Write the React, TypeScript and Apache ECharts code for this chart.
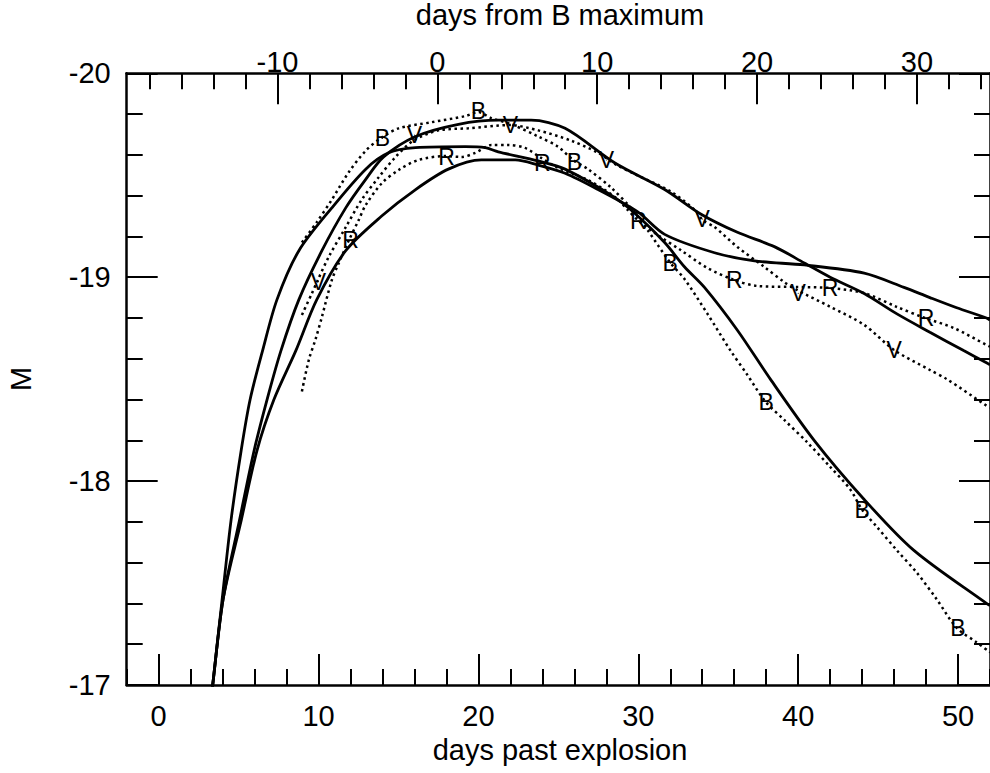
import React, { useEffect, useRef } from 'react';
import * as echarts from 'echarts';

const FONT = '"Liberation Sans", Arial, Helvetica, sans-serif';

// offset (days) between explosion and B maximum
const B_OFFSET = 17.43;

// tick values
const bottomMajorTicks = [0, 10, 20, 30, 40, 50];
const topMajorTicks = [-10, 0, 10, 20, 30];
const topMinorTicks = [-18, -16, -14, -12, -10, -8, -6, -4, -2, 0, 2, 4, 6, 8, 10, 12, 14, 16, 18, 20, 22, 24, 26, 28, 30, 32, 34];

// model light curves (solid): [days past explosion, M]
const modelB: [number, number][] = [
  [3.24, -16.9], [3.38, -17.0], [3.97, -17.42], [4.53, -17.81], [5.16, -18.15], [5.72, -18.4], [6.5, -18.64],
  [7.4, -18.89], [8.77, -19.13], [10.83, -19.34], [12.95, -19.53], [14.38, -19.61], [16.07, -19.635],
  [19.18, -19.64], [20.43, -19.635], [21.24, -19.615], [23.74, -19.57], [25.42, -19.53], [28.54, -19.39],
  [29.97, -19.3], [31.65, -19.17], [32.9, -19.05], [34.14, -18.95], [36.2, -18.74], [38.26, -18.5],
  [41.0, -18.2], [44.13, -17.91], [47.24, -17.66], [51.78, -17.4], [52.0, -17.39],
];
const modelV: [number, number][] = [
  [3.24, -16.9], [3.38, -17.0], [4.03, -17.42], [5.06, -17.81], [5.97, -18.15], [6.78, -18.4], [7.65, -18.64],
  [8.77, -18.89], [10.21, -19.13], [11.7, -19.34], [12.95, -19.48], [14.07, -19.59], [16.07, -19.69],
  [18.75, -19.75], [21.24, -19.77], [23.3, -19.77], [25.42, -19.73], [28.54, -19.56], [31.65, -19.43],
  [33.9, -19.31], [36.2, -19.22], [38.51, -19.15], [40.38, -19.07], [42.0, -19.0], [44.13, -18.92],
  [46.18, -18.82], [48.24, -18.73], [50.35, -18.64], [51.78, -18.58], [52.0, -18.57],
];
const modelR: [number, number][] = [
  [3.24, -16.9], [3.38, -17.0], [4.03, -17.42], [5.17, -17.81], [6.15, -18.15], [7.21, -18.4], [8.58, -18.64],
  [9.89, -18.89], [11.7, -19.13], [13.95, -19.3], [16.07, -19.43], [18.12, -19.53], [20.18, -19.575],
  [22.3, -19.575], [23.74, -19.55], [25.42, -19.51], [27.48, -19.43], [29.97, -19.32], [31.65, -19.21],
  [34.77, -19.12], [37.27, -19.08], [40.38, -19.06], [44.13, -19.02], [46.62, -18.95], [48.24, -18.9],
  [49.92, -18.85], [51.78, -18.8], [52.0, -18.79],
];

// observed light curves (dotted)
const obsB: [number, number][] = [
  [8.96, -19.17], [9.89, -19.27], [10.83, -19.38], [11.89, -19.515], [12.95, -19.62], [13.95, -19.685],
  [15.01, -19.73], [17.06, -19.76], [19.18, -19.79], [19.99, -19.81], [20.81, -19.78], [22.05, -19.75],
  [23.74, -19.69], [24.98, -19.64], [25.92, -19.575], [26.85, -19.53], [28.29, -19.44], [29.53, -19.34],
  [30.59, -19.23], [31.96, -19.075], [32.9, -18.99], [34.33, -18.82], [35.77, -18.64], [36.83, -18.52],
  [37.95, -18.39], [39.13, -18.3], [40.57, -18.19], [42.0, -18.07], [43.25, -17.96], [44.0, -17.86],
  [44.93, -17.775], [46.18, -17.66], [47.43, -17.55], [48.67, -17.42], [49.92, -17.28], [51.15, -17.21],
  [52.0, -17.16],
];
const obsV: [number, number][] = [
  [8.96, -18.815], [9.58, -18.92], [9.89, -18.975], [10.64, -19.1], [11.7, -19.245], [12.7, -19.38],
  [13.76, -19.49], [14.82, -19.59], [15.94, -19.67], [17.5, -19.72], [19.37, -19.73], [21.99, -19.746],
  [23.74, -19.72], [25.79, -19.67], [27.48, -19.61], [28.54, -19.555], [29.53, -19.515], [32.03, -19.42],
  [33.53, -19.33], [34.03, -19.28], [34.77, -19.246], [36.2, -19.148], [37.89, -19.05], [39.13, -18.976],
  [39.94, -18.937], [42.0, -18.855], [44.13, -18.766], [46.0, -18.643], [48.24, -18.545], [49.3, -18.5],
  [51.78, -18.37], [52.0, -18.36],
];
const obsR: [number, number][] = [
  [8.96, -18.44], [9.39, -18.594], [9.83, -18.7], [10.21, -18.805], [10.83, -18.986], [11.27, -19.07],
  [11.89, -19.18], [12.51, -19.28], [12.95, -19.354], [13.95, -19.46], [15.01, -19.526], [16.25, -19.575],
  [17.94, -19.594], [18.94, -19.59], [19.81, -19.61], [20.81, -19.648], [21.86, -19.648], [22.92, -19.634],
  [23.92, -19.585], [24.98, -19.536], [26.85, -19.477], [28.54, -19.393], [29.34, -19.33], [29.97, -19.28],
  [31.22, -19.207], [32.65, -19.133], [34.33, -19.045], [36.02, -18.986], [37.45, -18.957], [39.94, -18.952],
  [42.0, -18.947], [44.13, -18.922], [46.18, -18.854], [47.93, -18.8], [49.73, -18.751], [51.78, -18.668],
  [52.0, -18.66],
];

// band letters placed on the observed curves
const markB: [number, number][] = [[14, -19.681], [20, -19.815], [26, -19.566], [32, -19.068], [38, -18.389], [44, -17.858], [50, -17.28]];
const markV: [number, number][] = [[10, -18.978], [16, -19.697], [22, -19.746], [28, -19.575], [34, -19.285], [40, -18.921], [46, -18.643]];
const markR: [number, number][] = [[12, -19.182], [18, -19.591], [24, -19.559], [30, -19.276], [36, -18.986], [42, -18.945], [48, -18.798]];

const BLACK = '#000';

function solid(name: string, data: [number, number][]) {
  return {
    name, type: 'line', data, xAxisIndex: 0, yAxisIndex: 0, showSymbol: false, symbol: 'none',
    smooth: 0.3, clip: true, silent: true,
    lineStyle: { color: BLACK, width: 2.8, type: 'solid' },
  };
}
function dotted(name: string, data: [number, number][]) {
  return {
    name, type: 'line', data, xAxisIndex: 0, yAxisIndex: 0, showSymbol: false, symbol: 'none',
    smooth: 0.3, clip: true, silent: true,
    lineStyle: { color: BLACK, width: 2.5, type: [2.5, 3.5] },
  };
}
function letters(name: string, letter: string, data: [number, number][]) {
  return {
    name, type: 'scatter', data, xAxisIndex: 0, yAxisIndex: 0, symbol: 'circle', symbolSize: 1, silent: true,
    itemStyle: { color: BLACK, opacity: 1 },
    label: {
      show: true, position: 'inside', formatter: letter, color: BLACK, fontSize: 23, fontFamily: FONT,
      textBorderWidth: 0, opacity: 1,
    },
  };
}

const tickLine = { color: BLACK, width: 2 };
const axisLineStyle = { color: BLACK, width: 2.5 };

export default function App() {
  const ref = useRef<HTMLDivElement>(null);
  useEffect(() => {
    if (!ref.current) return;
    const chart = echarts.init(ref.current, undefined, { renderer: 'svg' });
    const option: any = {
      animation: false,
      backgroundColor: '#ffffff',
      grid: { left: 126.7, top: 73.3, width: 867.3, height: 611.7, containLabel: false },
      xAxis: [
        {
          type: 'value', position: 'bottom', min: -2, max: 52,
          axisLine: { show: true, onZero: false, lineStyle: axisLineStyle },
          axisTick: { show: true, inside: true, length: 31, lineStyle: tickLine, customValues: bottomMajorTicks },
          axisLabel: { show: true, customValues: bottomMajorTicks, fontSize: 29, fontFamily: FONT, color: BLACK, margin: 16 },
          splitLine: { show: false },
        },
        {
          type: 'value', position: 'bottom', min: -2, max: 52, interval: 2,
          axisLine: { show: false, onZero: false },
          axisTick: { show: true, inside: true, length: 16, lineStyle: tickLine },
          axisLabel: { show: false },
          splitLine: { show: false },
        },
        {
          type: 'value', position: 'top', min: -2 - B_OFFSET, max: 52 - B_OFFSET,
          axisLine: { show: true, onZero: false, lineStyle: axisLineStyle },
          axisTick: { show: true, inside: true, length: 31, lineStyle: tickLine, customValues: topMajorTicks },
          axisLabel: { show: true, customValues: topMajorTicks, fontSize: 29, fontFamily: FONT, color: BLACK, margin: -3 },
          splitLine: { show: false },
        },
        {
          type: 'value', position: 'top', min: -2 - B_OFFSET, max: 52 - B_OFFSET,
          axisLine: { show: false, onZero: false },
          axisTick: { show: true, inside: true, length: 16, lineStyle: tickLine, customValues: topMinorTicks },
          axisLabel: { show: false },
          splitLine: { show: false },
        },
      ],
      yAxis: [
        {
          type: 'value', position: 'left', inverse: true, min: -20, max: -17, interval: 1,
          axisLine: { show: true, onZero: false, lineStyle: axisLineStyle },
          axisTick: { show: true, inside: true, length: 31, lineStyle: tickLine },
          minorTick: { show: true, splitNumber: 5, length: 16, lineStyle: tickLine },
          axisLabel: { show: true, fontSize: 29, fontFamily: FONT, color: BLACK, margin: 16 },
          splitLine: { show: false },
          minorSplitLine: { show: false },
        },
        {
          type: 'value', position: 'right', inverse: true, min: -20, max: -17, interval: 1,
          axisLine: { show: true, onZero: false, lineStyle: axisLineStyle },
          axisTick: { show: true, inside: true, length: 31, lineStyle: tickLine },
          minorTick: { show: true, splitNumber: 5, length: 16, lineStyle: tickLine },
          axisLabel: { show: false },
          splitLine: { show: false },
          minorSplitLine: { show: false },
        },
      ],
      graphic: [
        {
          type: 'text', x: 560, y: 15,
          style: { text: 'days from B maximum', fontSize: 29, fontFamily: FONT, fill: BLACK, align: 'center', verticalAlign: 'middle' },
        },
        {
          type: 'text', x: 560, y: 750,
          style: { text: 'days past explosion', fontSize: 29, fontFamily: FONT, fill: BLACK, align: 'center', verticalAlign: 'middle' },
        },
        {
          type: 'text', x: 21, y: 379, rotation: Math.PI / 2,
          style: { text: 'M', fontSize: 29, fontFamily: FONT, fill: BLACK, align: 'center', verticalAlign: 'middle' },
        },
      ],
      series: [
        solid('model B', modelB),
        solid('model V', modelV),
        solid('model R', modelR),
        dotted('observed B', obsB),
        dotted('observed V', obsV),
        dotted('observed R', obsR),
        letters('B points', 'B', markB),
        letters('V points', 'V', markV),
        letters('R points', 'R', markR),
      ],
    };
    chart.setOption(option);
    return () => chart.dispose();
  }, []);
  return <div ref={ref} style={{ position: 'absolute', left: 0, top: 0, width: 990, height: 773, background: '#fff' }} />;
}
